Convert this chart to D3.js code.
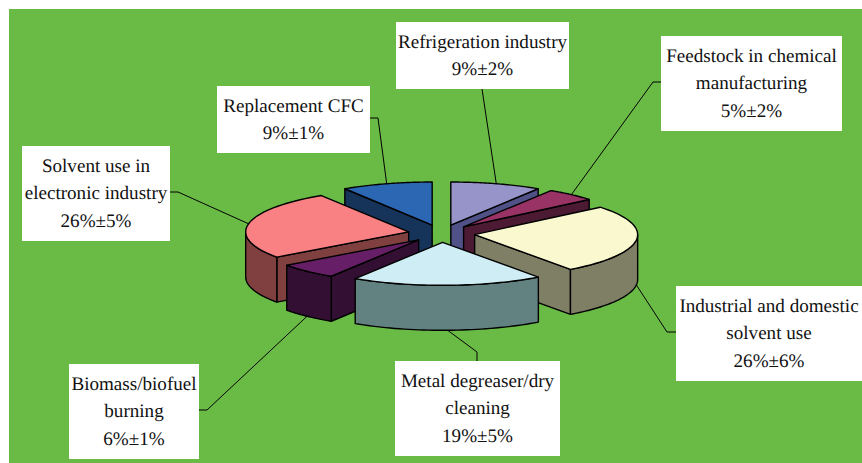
<!DOCTYPE html>
<html>
<head>
<meta charset="utf-8">
<script src="https://cdnjs.cloudflare.com/ajax/libs/d3/7.8.5/d3.min.js"></script>
<style>
    html, body { margin: 0; padding: 0; background: #ffffff; }
    #chart { width: 862px; height: 463px; }
    .label { font-family: "Liberation Serif", "Times New Roman", serif; font-size: 19.1px; fill: #111111; text-anchor: middle; text-rendering: geometricPrecision; }
</style>
</head>
<body>
<div id="chart"></div>
<script>

// shares in clockwise order, starting at 12 o'clock
const categories = ["Refrigeration industry", "Feedstock in chemical manufacturing", "Industrial and domestic solvent use", "Metal degreaser/dry cleaning", "Biomass/biofuel burning", "Solvent use in electronic industry", "Replacement CFC"];
const values = [9, 5, 26, 19, 6, 26, 9];
const errors = [2, 2, 6, 5, 1, 5, 1];
const labelLines = [
    ["Refrigeration industry"],
    ["Feedstock in chemical", "manufacturing"],
    ["Industrial and domestic", "solvent use"],
    ["Metal degreaser/dry", "cleaning"],
    ["Biomass/biofuel", "burning"],
    ["Solvent use in", "electronic industry"],
    ["Replacement CFC"]
];
const topColors = ["#9794CA", "#993366", "#FAF8CF", "#CFEDF4", "#661F66", "#F98083", "#2B67B3"];
const sideColors = ["#4F5187", "#4C1A33", "#7F7F66", "#628282", "#330F33", "#804040", "#163359"];

const width = 862;
const height = 463;

// layout of the label boxes: x, y, w, h, then elbow of the leader line
const boxes = [
    {x: 396, y: 22, w: 173, h: 67, ex: 482, ey: 89},
    {x: 661, y: 36, w: 181, h: 95, ex: 653, ey: 82},
    {x: 676, y: 286, w: 186, h: 95, ex: 667, ey: 332},
    {x: 395, y: 361, w: 165, h: 95, ex: 477, ey: 352},
    {x: 69, y: 364, w: 130, h: 95, ex: 207, ey: 410},
    {x: 22, y: 146, w: 148, h: 95, ex: 178, ey: 192},
    {x: 217, y: 86, w: 153, h: 67, ex: 378, ey: 118}
];

const svg = d3.select("#chart")
    .append("svg")
    .attr("width", width)
    .attr("height", height);

svg.append("rect")
    .attr("x", 9)
    .attr("y", 9)
    .attr("width", width - 9)
    .attr("height", height - 9)
    .attr("fill", "#6ABB46");

// the tilted pie is an ellipse, so both scales map unit circle coords to pixels
const xScale = d3.scaleLinear().domain([-1, 1]).range([441.5 - 163, 441.5 + 163]);
const yScale = d3.scaleLinear().domain([-1, 1]).range([233.5 - 43, 233.5 + 43]);
const depth = 45;
const explode = 0.205;

const arcs = d3.pie().sort(null)(values);

const slices = arcs.map(function(a, i) {
    const mid = (a.startAngle + a.endAngle) / 2;
    const ox = explode * Math.sin(mid);
    const oy = -explode * Math.cos(mid);
    const point = function(angle, r, drop) {
        return [
            xScale(ox + r * Math.sin(angle)),
            yScale(oy - r * Math.cos(angle)) + (drop || 0)
        ];
    };
    return {i: i, a0: a.startAngle, a1: a.endAngle, mid: mid, point: point};
});

const line = d3.line();

function rim(s, from, to, drop) {
    const steps = d3.range(0, 41).map(function(k) { return from + (to - from) * k / 40; });
    return steps.map(function(angle) { return s.point(angle, 1, drop); });
}

function drawWall(points, color) {
    svg.append("path")
        .attr("d", line(points) + "Z")
        .attr("fill", color)
        .attr("stroke", "#000000")
        .attr("stroke-width", 1.4)
        .attr("stroke-linejoin", "round");
}

// leader lines go under the pie
slices.forEach(function(s) {
    const b = boxes[s.i];
    const drop = Math.cos(s.mid) < 0 ? depth : 0;
    const end = s.point(s.mid, 1, drop);
    let start;
    if (b.ex < b.x) start = [b.x, b.ey];
    else if (b.ex > b.x + b.w) start = [b.x + b.w, b.ey];
    else if (b.ey < b.y) start = [b.ex, b.y];
    else start = [b.ex, b.y + b.h];
    svg.append("path")
        .attr("d", line([start, [b.ex, b.ey], end]))
        .attr("fill", "none")
        .attr("stroke", "#000000")
        .attr("stroke-width", 1);
});

// back to front
const drawOrder = [6, 0, 1, 5, 4, 2, 3];

drawOrder.forEach(function(idx) {
    const s = slices[idx];
    const apex = s.point(0, 0);
    const apexLow = s.point(0, 0, depth);

    // radial walls, only those facing the viewer
    if (Math.sin(s.a0) < -0.001) {
        drawWall([apex, s.point(s.a0, 1), s.point(s.a0, 1, depth), apexLow], sideColors[idx]);
    }
    if (Math.sin(s.a1) > 0.001) {
        drawWall([apex, s.point(s.a1, 1), s.point(s.a1, 1, depth), apexLow], sideColors[idx]);
    }

    // outer wall, front half only
    const from = Math.max(s.a0, Math.PI / 2);
    const to = Math.min(s.a1, 3 * Math.PI / 2);
    if (to > from) {
        drawWall(rim(s, from, to, 0).concat(rim(s, to, from, depth)), sideColors[idx]);
    }

    // top face
    drawWall([apex].concat(rim(s, s.a0, s.a1, 0)), topColors[idx]);
});

// label boxes
boxes.forEach(function(b, i) {
    svg.append("rect")
        .attr("x", b.x)
        .attr("y", b.y)
        .attr("width", b.w)
        .attr("height", b.h)
        .attr("fill", "#ffffff");

    const lines = labelLines[i].concat([`${values[i]}%±${errors[i]}%`]);
    lines.forEach(function(t, k) {
        svg.append("text")
            .attr("class", "label")
            .attr("x", b.x + b.w / 2)
            .attr("y", b.y + 25.5 + k * 27.7)
            .text(t);
    });
});

</script>
</body>
</html>
